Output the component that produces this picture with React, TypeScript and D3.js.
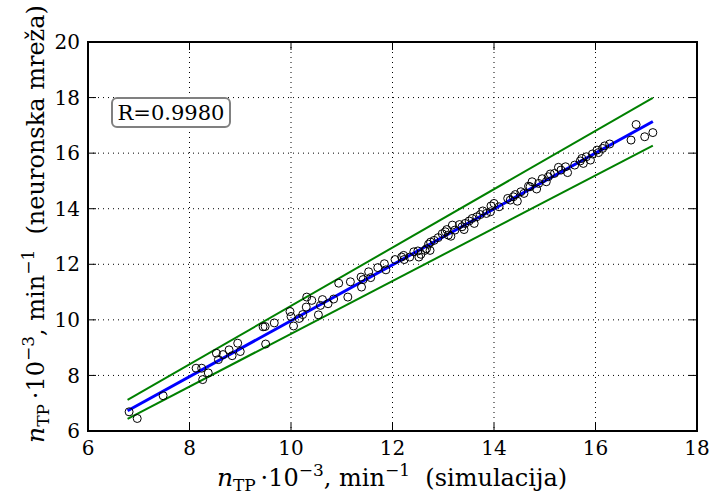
import React from "react";
import * as d3 from "d3";

// simulation (x) vs neural network (y), values ×10^-3 min^-1
const simX = [6.81,6.97,7.48,8.13,8.24,8.26,8.37,8.53,8.57,8.66,8.78,8.84,8.95,9.00,9.49,9.45,9.50,9.67,9.98,10.0,10.05,10.16,10.23,10.31,10.30,10.41,10.54,10.58,10.62,10.73,10.84,10.94,11.12,11.17,11.38,11.39,11.42,11.53,11.57,11.71,11.84,11.87,12.05,12.18,12.23,12.22,12.34,12.42,12.50,12.52,12.56,12.64,12.67,12.71,12.74,12.75,12.82,12.90,12.98,13.04,13.10,13.15,13.18,13.23,13.32,13.37,13.41,13.43,13.51,13.57,13.61,13.66,13.73,13.78,13.85,13.93,13.94,14.00,14.10,14.27,14.38,14.42,14.46,14.53,14.59,14.68,14.75,14.84,14.88,14.95,15.03,15.07,15.11,15.19,15.27,15.32,15.41,15.45,15.70,15.73,15.76,15.82,15.90,15.94,16.03,16.14,16.18,16.28,16.70,16.80,16.97,17.13,13.07,14.32,14.71,15.59,16.06];
const netY = [6.69,6.45,7.27,8.26,8.26,7.85,8.09,8.80,8.57,8.75,8.92,8.71,9.16,8.86,9.76,9.75,9.13,9.89,10.30,10.12,9.78,10.05,10.19,10.82,10.46,10.70,10.18,10.52,10.73,10.58,10.75,11.32,10.82,11.37,11.54,11.18,11.45,11.73,11.52,11.88,12.02,11.80,12.17,12.26,12.17,12.32,12.26,12.45,12.48,12.26,12.36,12.50,12.56,12.72,12.50,12.80,12.86,12.96,13.10,13.17,13.05,13.01,13.41,13.23,13.43,13.35,13.25,13.47,13.56,13.65,13.47,13.71,13.79,13.92,13.83,13.89,14.10,14.19,14.07,14.37,14.43,14.51,14.27,14.61,14.55,14.81,14.97,14.71,14.91,15.08,14.97,15.15,15.25,15.27,15.49,15.39,15.51,15.30,15.72,15.81,15.63,15.87,15.75,15.97,16.11,16.17,16.26,16.33,16.47,17.03,16.59,16.74,13.25,14.31,14.79,15.57,16.02];

const fitLine: [number, number][] = [[6.78, 6.73], [17.13, 17.14]];
const upperBand: [number, number][] = [[6.78, 7.12], [17.13, 17.99]];
const lowerBand: [number, number][] = [[6.78, 6.44], [17.13, 16.27]];

const xTicks = [6, 8, 10, 12, 14, 16, 18];
const yTicks = [6, 8, 10, 12, 14, 16, 18, 20];
const rLabel = "R=0.9980";

function AxisLabel({ tail }: { tail: string }) {
  const small = 17;
  return (
    <>
      <tspan fontStyle="italic" fontSize={25}>n</tspan>
      <tspan fontSize={small} dy={5}>TP</tspan>
      <tspan dy={-5}>{"\u2009\u00B710"}</tspan>
      <tspan fontSize={small} dy={-10}>{"\u22123"}</tspan>
      <tspan dy={10}>{", min"}</tspan>
      <tspan fontSize={small} dy={-10}>{"\u22121"}</tspan>
      <tspan dy={10}>{"\u00A0\u00A0" + tail}</tspan>
    </>
  );
}

export default function App() {
  const W = 713, H = 495;
  const L = 88, R = 697, T = 42, B = 431;
  const x = d3.scaleLinear().domain([6, 18]).range([L, R]);
  const y = d3.scaleLinear().domain([6, 20]).range([B, T]);
  const line = d3.line<[number, number]>().x(d => x(d[0])).y(d => y(d[1]));
  const font = "'DejaVu Serif', serif";
  const tl = 8;
  return (
    <svg width={W} height={H} style={{ position: "absolute", left: 0, top: 0, background: "#fff" }} fontFamily={font}>
      <rect x={0} y={0} width={W} height={H} fill="#fff" />
      {/* grid */}
      {xTicks.slice(1, -1).map(t => (
        <line key={"gx" + t} x1={x(t)} x2={x(t)} y1={T} y2={B} stroke="#000" strokeWidth={1} strokeDasharray="1,4" />
      ))}
      {yTicks.slice(1, -1).map(t => (
        <line key={"gy" + t} x1={L} x2={R} y1={y(t)} y2={y(t)} stroke="#000" strokeWidth={1} strokeDasharray="1,4" />
      ))}
      {/* lines */}
      <path d={line(upperBand) || ""} stroke="#008000" strokeWidth={2} fill="none" />
      <path d={line(lowerBand) || ""} stroke="#008000" strokeWidth={2} fill="none" />
      <path d={line(fitLine) || ""} stroke="#0000ff" strokeWidth={3} fill="none" />
      {/* points */}
      {simX.map((v, i) => (
        <circle key={i} cx={x(v)} cy={y(netY[i])} r={4} fill="none" stroke="#000" strokeWidth={1} />
      ))}
      {/* ticks */}
      {xTicks.map(t => (
        <g key={"tx" + t}>
          <line x1={x(t)} x2={x(t)} y1={B} y2={B - tl} stroke="#000" strokeWidth={1} />
          <line x1={x(t)} x2={x(t)} y1={T} y2={T + tl} stroke="#000" strokeWidth={1} />
          <text x={x(t)} y={455} fontSize={20} textAnchor="middle" fill="#000">{t}</text>
        </g>
      ))}
      {yTicks.map(t => (
        <g key={"ty" + t}>
          <line x1={L} x2={L + tl} y1={y(t)} y2={y(t)} stroke="#000" strokeWidth={1} />
          <line x1={R} x2={R - tl} y1={y(t)} y2={y(t)} stroke="#000" strokeWidth={1} />
          <text x={80} y={y(t)} dy="0.36em" fontSize={20} textAnchor="end" fill="#000">{t}</text>
        </g>
      ))}
      {/* frame */}
      <rect x={L} y={T} width={R - L} height={B - T} fill="none" stroke="#000" strokeWidth={2} />
      {/* R box */}
      <rect x={112} y={98} width={118} height={29} rx={5} ry={5} fill="#fff" stroke="#808080" strokeWidth={2} />
      <text x={171} y={120} fontSize={21} textAnchor="middle" fill="#000">{rLabel}</text>
      {/* x label */}
      <text x={392} y={486} fontSize={24} textAnchor="middle" fill="#000" style={{ whiteSpace: "pre" }}>
        <AxisLabel tail="(simulacija)" />
      </text>
      {/* y label */}
      <text transform="translate(44,224) rotate(-90)" x={0} y={0} fontSize={24} textAnchor="middle" fill="#000" style={{ whiteSpace: "pre" }}>
        <AxisLabel tail={"(neuronska mre\u017Ea)"} />
      </text>
    </svg>
  );
}
